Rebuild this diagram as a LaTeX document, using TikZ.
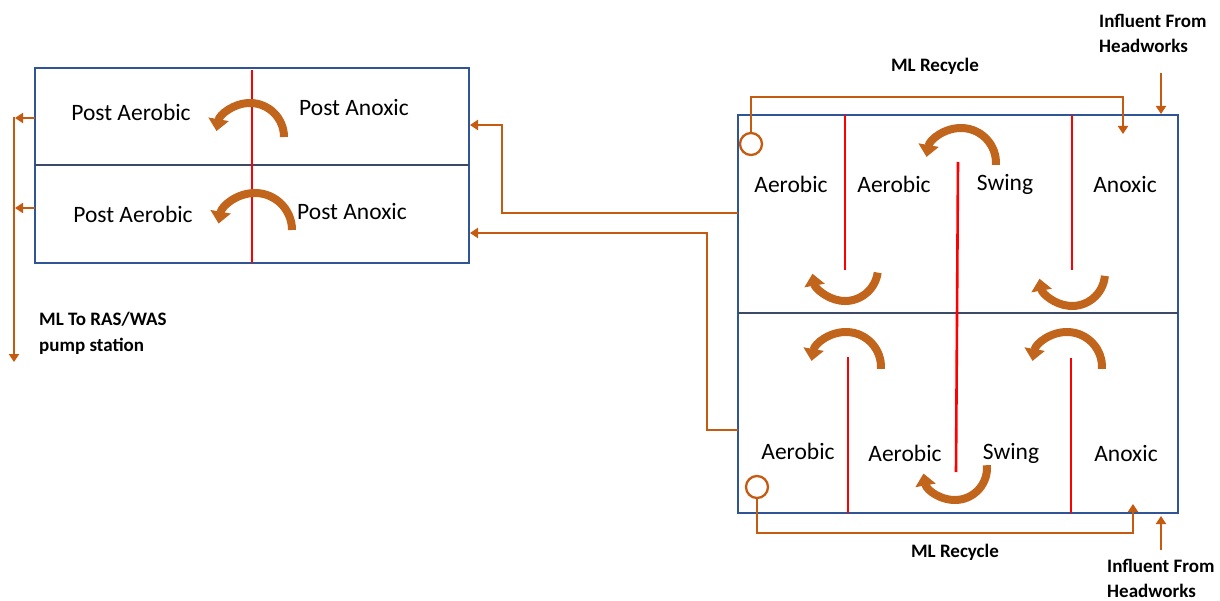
\documentclass[tikz,border=0pt]{standalone}
\usepackage{fontspec}
\setmainfont{Carlito}
\usetikzlibrary{arrows.meta}
\definecolor{tankblue}{HTML}{2F5597}
\definecolor{divgrey}{HTML}{3C4A68}
\definecolor{flowor}{HTML}{C55A11}
\definecolor{curvor}{HTML}{C2651C}
\tikzset{
  tank/.style={draw=tankblue, line width=1.8pt},
  divider/.style={draw=divgrey, line width=1.6pt},
  baffle/.style={draw=red, line width=2.6pt},
  flow/.style={draw=flowor, line width=2.3pt, -{Triangle[width=10pt,length=8pt]}},
  curv/.style={draw=curvor, line width=8pt, -{Triangle[width=20pt,length=12pt]}},
  zone/.style={font=\fontsize{23.5}{28}\selectfont, inner sep=0pt},
  lbl/.style={font=\bfseries\fontsize{19}{25.5}\selectfont, inner sep=0pt, align=left},
  ring/.style={draw=flowor, line width=2.3pt, circle, inner sep=0pt},
}
\begin{document}
\begin{tikzpicture}[x=1pt,y=-1pt]
\useasboundingbox (0,0) rectangle (1220,601);
% ---------- left tank ----------
\draw[tank] (35,68) rectangle (469,263);
\draw[divider] (35,165) -- (469,165);
\draw[baffle] (252,70) -- (252,263);
\node[zone] (pa1) at (131,112) {Post Aerobic};
\node[zone] (px1) at (354,108) {Post Anoxic};
\node[zone] (pa2) at (133,214) {Post Aerobic};
\node[zone] (px2) at (352,212) {Post Anoxic};
\draw[curv] (250,137) ++(0:34) arc[start angle=0, end angle=-170, radius=34];
\draw[curv] (255,230) ++(0:37) arc[start angle=0, end angle=-170, radius=37];
% ---------- right tank ----------
\draw[tank] (738,115) rectangle (1178,513);
\draw[divider] (738,313) -- (1178,313);
\draw[baffle] (845,115) -- (845,270);
\draw[baffle] (1072,115) -- (1072,270);
\draw[baffle] (958,162) -- (956,472);
\draw[baffle] (848,357) -- (848,513);
\draw[baffle] (1071,358) -- (1071,513);
\node[zone] (z1) at (791,184) {Aerobic};
\node[zone] (z2) at (894,184) {Aerobic};
\node[zone] (z3) at (1005,184) {Swing};
\node[zone] (z4) at (1125,184) {Anoxic};
\node[zone] (z5) at (798,451) {Aerobic};
\node[zone] (z6) at (905,453) {Aerobic};
\node[zone] (z7) at (1011,453) {Swing};
\node[zone] (z8) at (1126,453) {Anoxic};
\draw[curv] (845,268) ++(8:33) arc[start angle=8, end angle=170, radius=33];
\draw[curv] (961,163) ++(3:35) arc[start angle=3, end angle=-170, radius=35];
\draw[curv] (1072,273) ++(5:33) arc[start angle=5, end angle=170, radius=33];
\draw[curv] (846,367) ++(3:35) arc[start angle=3, end angle=-170, radius=35];
\draw[curv] (1067,367) ++(3:35) arc[start angle=3, end angle=-170, radius=35];
\draw[curv] (955,468) ++(-5:32) arc[start angle=-5, end angle=170, radius=32];
% ---------- recycle rings ----------
\node[ring, minimum size=22pt] (ringA) at (751,144) {};
\node[ring, minimum size=22pt] (ringB) at (757,487) {};
\coordinate (kA) at (1123,97);
\coordinate (tA) at (1123,134);
\coordinate (kB) at (1133,533);
\coordinate (tB) at (1133,504);
\draw[flow] (ringA.north) |- (kA) -- (tA);
\draw[flow] (ringB.south) |- (kB) -- (tB);
\node[lbl] (mlr1) at (935,66) {ML Recycle};
\node[lbl] (mlr2) at (955,552) {ML Recycle};
% ---------- influent ----------
\node[lbl, anchor=north west] (inf1) at (1099,14) {Influent From\\Headworks};
\node[lbl, anchor=north west] (inf2) at (1107,559) {Influent From\\Headworks};
\coordinate (i1s) at (1161,73);
\coordinate (i1e) at (1161,114);
\coordinate (i2s) at (1161,550);
\coordinate (i2e) at (1161,516);
\draw[flow] (i1s) -- (i1e);
\draw[flow] (i2s) -- (i2e);
% ---------- tank to tank ----------
\coordinate (r1) at (738,213);
\coordinate (k1) at (502,125);
\coordinate (l1) at (470,125);
\coordinate (r2) at (738,430);
\coordinate (k2) at (707,233);
\coordinate (l2) at (470,233);
\draw[flow] (r1) -| (k1) -- (l1);
\draw[flow] (r2) -| (k2) -- (l2);
% ---------- outflow ----------
\coordinate (o1) at (35,118);
\coordinate (o1e) at (15,118);
\coordinate (o2) at (35,208);
\coordinate (o2e) at (15,208);
\coordinate (dtop) at (14,117);
\coordinate (dbot) at (14,362);
\draw[flow] (o1) -- (o1e);
\draw[flow] (o2) -- (o2e);
\draw[flow] (dtop) -- (dbot);
\node[lbl, anchor=north west] (ras) at (39,312) {ML To RAS/WAS\\pump station};
\end{tikzpicture}
\end{document}
